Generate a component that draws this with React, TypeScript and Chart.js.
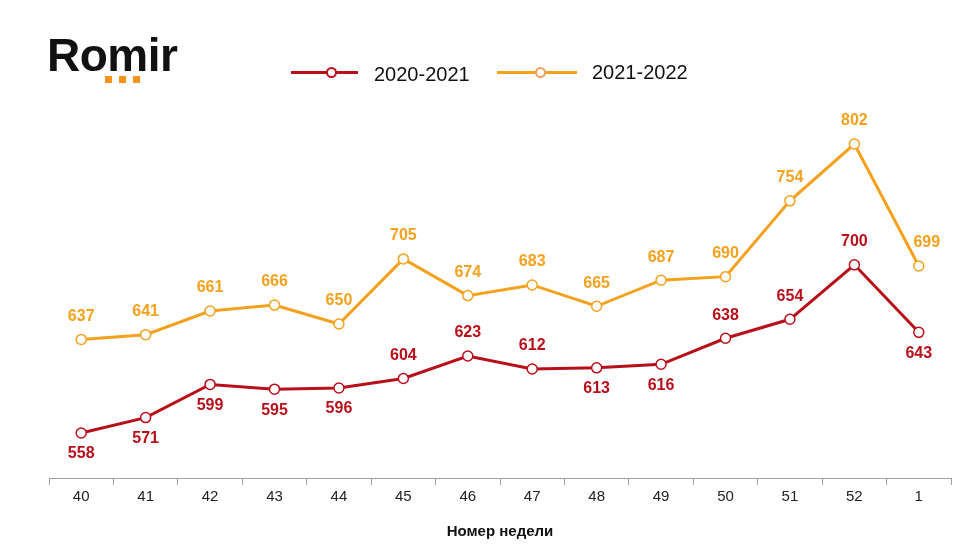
import React, { useEffect, useRef } from "react";
import { Chart, registerables } from "chart.js";

Chart.register(...registerables);

const weeks = ["40", "41", "42", "43", "44", "45", "46", "47", "48", "49", "50", "51", "52", "1"];
const series2021 = [558, 571, 599, 595, 596, 604, 623, 612, 613, 616, 638, 654, 700, 643];
const series2022 = [637, 641, 661, 666, 650, 705, 674, 683, 665, 687, 690, 754, 802, 699];
// label position for the first series: 1 = above, -1 = below
const pos2021 = [-1, -1, -1, -1, -1, 1, 1, 1, -1, -1, 1, 1, 1, -1];
const pos2022 = [1, 1, 1, 1, 1, 1, 1, 1, 1, 1, 1, 1, 1, 1];

const RED = "#B8101A";
const ORANGE = "#F4A11D";

const labelsPlugin = {
  id: "valueLabels",
  afterDatasetsDraw(chart: any) {
    const ctx = chart.ctx;
    ctx.save();
    ctx.font = "bold 16px Arial, 'Liberation Sans', sans-serif";
    ctx.textAlign = "center";
    ctx.textBaseline = "middle";
    chart.data.datasets.forEach((ds: any, di: number) => {
      const meta = chart.getDatasetMeta(di);
      const posArr = di === 0 ? pos2021 : pos2022;
      ctx.fillStyle = ds.borderColor;
      meta.data.forEach((pt: any, i: number) => {
        const dy = posArr[i] > 0 ? -23 : 21;
        const dx = di === 1 && i === meta.data.length - 1 ? 8 : 0;
        ctx.fillText(String(ds.data[i]), pt.x + dx, pt.y + dy);
      });
    });
    ctx.restore();
  },
};

export default function App() {
  const ref = useRef<HTMLCanvasElement>(null);
  useEffect(() => {
    if (!ref.current) return;
    const chart = new Chart(ref.current, {
      type: "line",
      data: {
        labels: weeks,
        datasets: [
          {
            label: "2020-2021",
            data: series2021,
            borderColor: RED,
            backgroundColor: "#ffffff",
            borderWidth: 3,
            pointRadius: 5,
            pointBorderWidth: 1.5,
            pointBackgroundColor: "#ffffff",
            pointBorderColor: RED,
            tension: 0,
          },
          {
            label: "2021-2022",
            data: series2022,
            borderColor: ORANGE,
            backgroundColor: "#ffffff",
            borderWidth: 3,
            pointRadius: 5,
            pointBorderWidth: 1.5,
            pointBackgroundColor: "#ffffff",
            pointBorderColor: ORANGE,
            tension: 0,
          },
        ],
      },
      options: {
        animation: false,
        responsive: false,
        maintainAspectRatio: false,
        layout: { padding: { left: 49, right: 29, top: 99, bottom: 39 } },
        plugins: {
          legend: { display: false },
          tooltip: { enabled: false },
        },
        scales: {
          x: {
            offset: true,
            grid: {
              display: true,
              drawOnChartArea: false,
              drawTicks: true,
              tickLength: 7,
              color: "#a0a0a0",
              offset: true,
            },
            border: { display: true, color: "#a0a0a0", width: 1 },
            ticks: {
              color: "#222222",
              font: { family: "Arial, 'Liberation Sans', sans-serif", size: 15 },
              padding: 3,
            },
          },
          y: {
            display: false,
            min: 520,
            max: 840,
          },
        },
      },
      plugins: [labelsPlugin],
    });
    return () => chart.destroy();
  }, []);

  const font = "Arial, 'Liberation Sans', sans-serif";
  return (
    <div style={{ position: "absolute", left: 0, top: 0, width: 980, height: 548, background: "#fff", fontFamily: font }}>
      <canvas ref={ref} width={980} height={548} style={{ position: "absolute", left: 0, top: 0, width: 980, height: 548 }} />
      <div style={{ position: "absolute", left: 47, top: 29, fontSize: 46, fontWeight: 900, letterSpacing: -0.5, color: "#111", lineHeight: "52px" }}>
        Romir
      </div>
      {[105, 119, 133].map((x) => (
        <div key={x} style={{ position: "absolute", left: x, top: 76, width: 7, height: 7, background: "#F7931E" }} />
      ))}
      {/* legend */}
      <div style={{ position: "absolute", left: 291, top: 71, width: 67, height: 3, background: RED }} />
      <div style={{ position: "absolute", left: 326, top: 67, width: 7, height: 7, borderRadius: "50%", border: `2px solid ${RED}`, background: "#fff" }} />
      <div style={{ position: "absolute", left: 374, top: 62, fontSize: 20, color: "#111", lineHeight: "24px" }}>2020-2021</div>
      <div style={{ position: "absolute", left: 497, top: 71, width: 80, height: 3, background: ORANGE }} />
      <div style={{ position: "absolute", left: 535, top: 67, width: 7, height: 7, borderRadius: "50%", border: `2px solid #F0A060`, background: "#fff" }} />
      <div style={{ position: "absolute", left: 592, top: 60, fontSize: 20, color: "#111", lineHeight: "24px" }}>2021-2022</div>
      <div style={{ position: "absolute", left: 0, width: 1000, top: 521, textAlign: "center", fontSize: 15, fontWeight: "bold", color: "#111", lineHeight: "20px" }}>
        Номер недели
      </div>
    </div>
  );
}
